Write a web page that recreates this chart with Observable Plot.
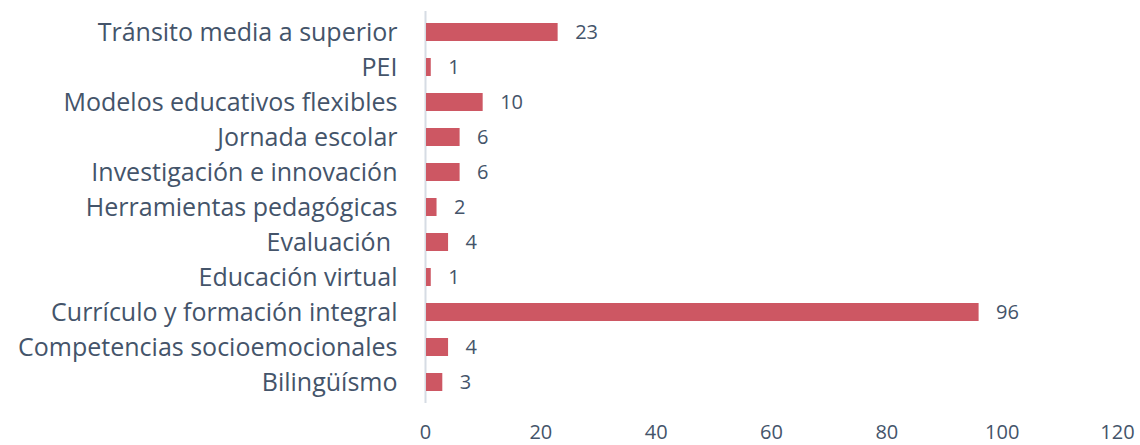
<!DOCTYPE html>
<html>
<head>
<meta charset="utf-8">
<script src="https://cdn.jsdelivr.net/npm/d3@7"></script>
<script src="https://cdn.jsdelivr.net/npm/@observablehq/plot@0.6"></script>
<style>
  html, body { margin: 0; padding: 0; background: #fff; }
  #chart { width: 1140px; height: 445px; }
</style>
</head>
<body>
<div id="chart"></div>
<script>
const categories = [
  "Tránsito media a superior",
  "PEI",
  "Modelos educativos flexibles",
  "Jornada escolar",
  "Investigación e innovación",
  "Herramientas pedagógicas",
  "Evaluación ",
  "Educación virtual",
  "Currículo y formación integral",
  "Competencias socioemocionales",
  "Bilingüísmo"
];
const values = [23, 1, 10, 6, 6, 2, 4, 1, 96, 4, 3];
const xTicks = [0, 20, 40, 60, 80, 100, 120];

const data = categories.map((c, i) => ({category: c, value: values[i]}));
const textColor = "#44546a";

const chart = Plot.plot({
  width: 1140,
  height: 445,
  marginLeft: 425,
  marginRight: 23,
  marginTop: 11,
  marginBottom: 42,
  style: {fontFamily: "'Open Sans', sans-serif", color: textColor, background: "#fff"},
  x: {domain: [0, 120], ticks: xTicks, label: null},
  y: {domain: categories, label: null, paddingInner: 0.49, paddingOuter: 0.235},
  marks: [
    Plot.ruleX([0], {stroke: "#d6dce4", strokeWidth: 2}),
    Plot.barX(data, {x: "value", y: "category", fill: "#cd5763", insetLeft: 1}),
    Plot.text(data, {x: "value", y: "category", text: d => String(d.value), dx: 17, textAnchor: "start", fontSize: 20, fill: textColor}),
    Plot.axisY({tickSize: 0, tickPadding: 28, fontSize: 25, fill: textColor, label: null}),
    Plot.axisX({ticks: xTicks, tickSize: 0, tickPadding: 21, fontSize: 20, fill: textColor, label: null})
  ]
});
document.getElementById("chart").appendChild(chart);
</script>
</body>
</html>
